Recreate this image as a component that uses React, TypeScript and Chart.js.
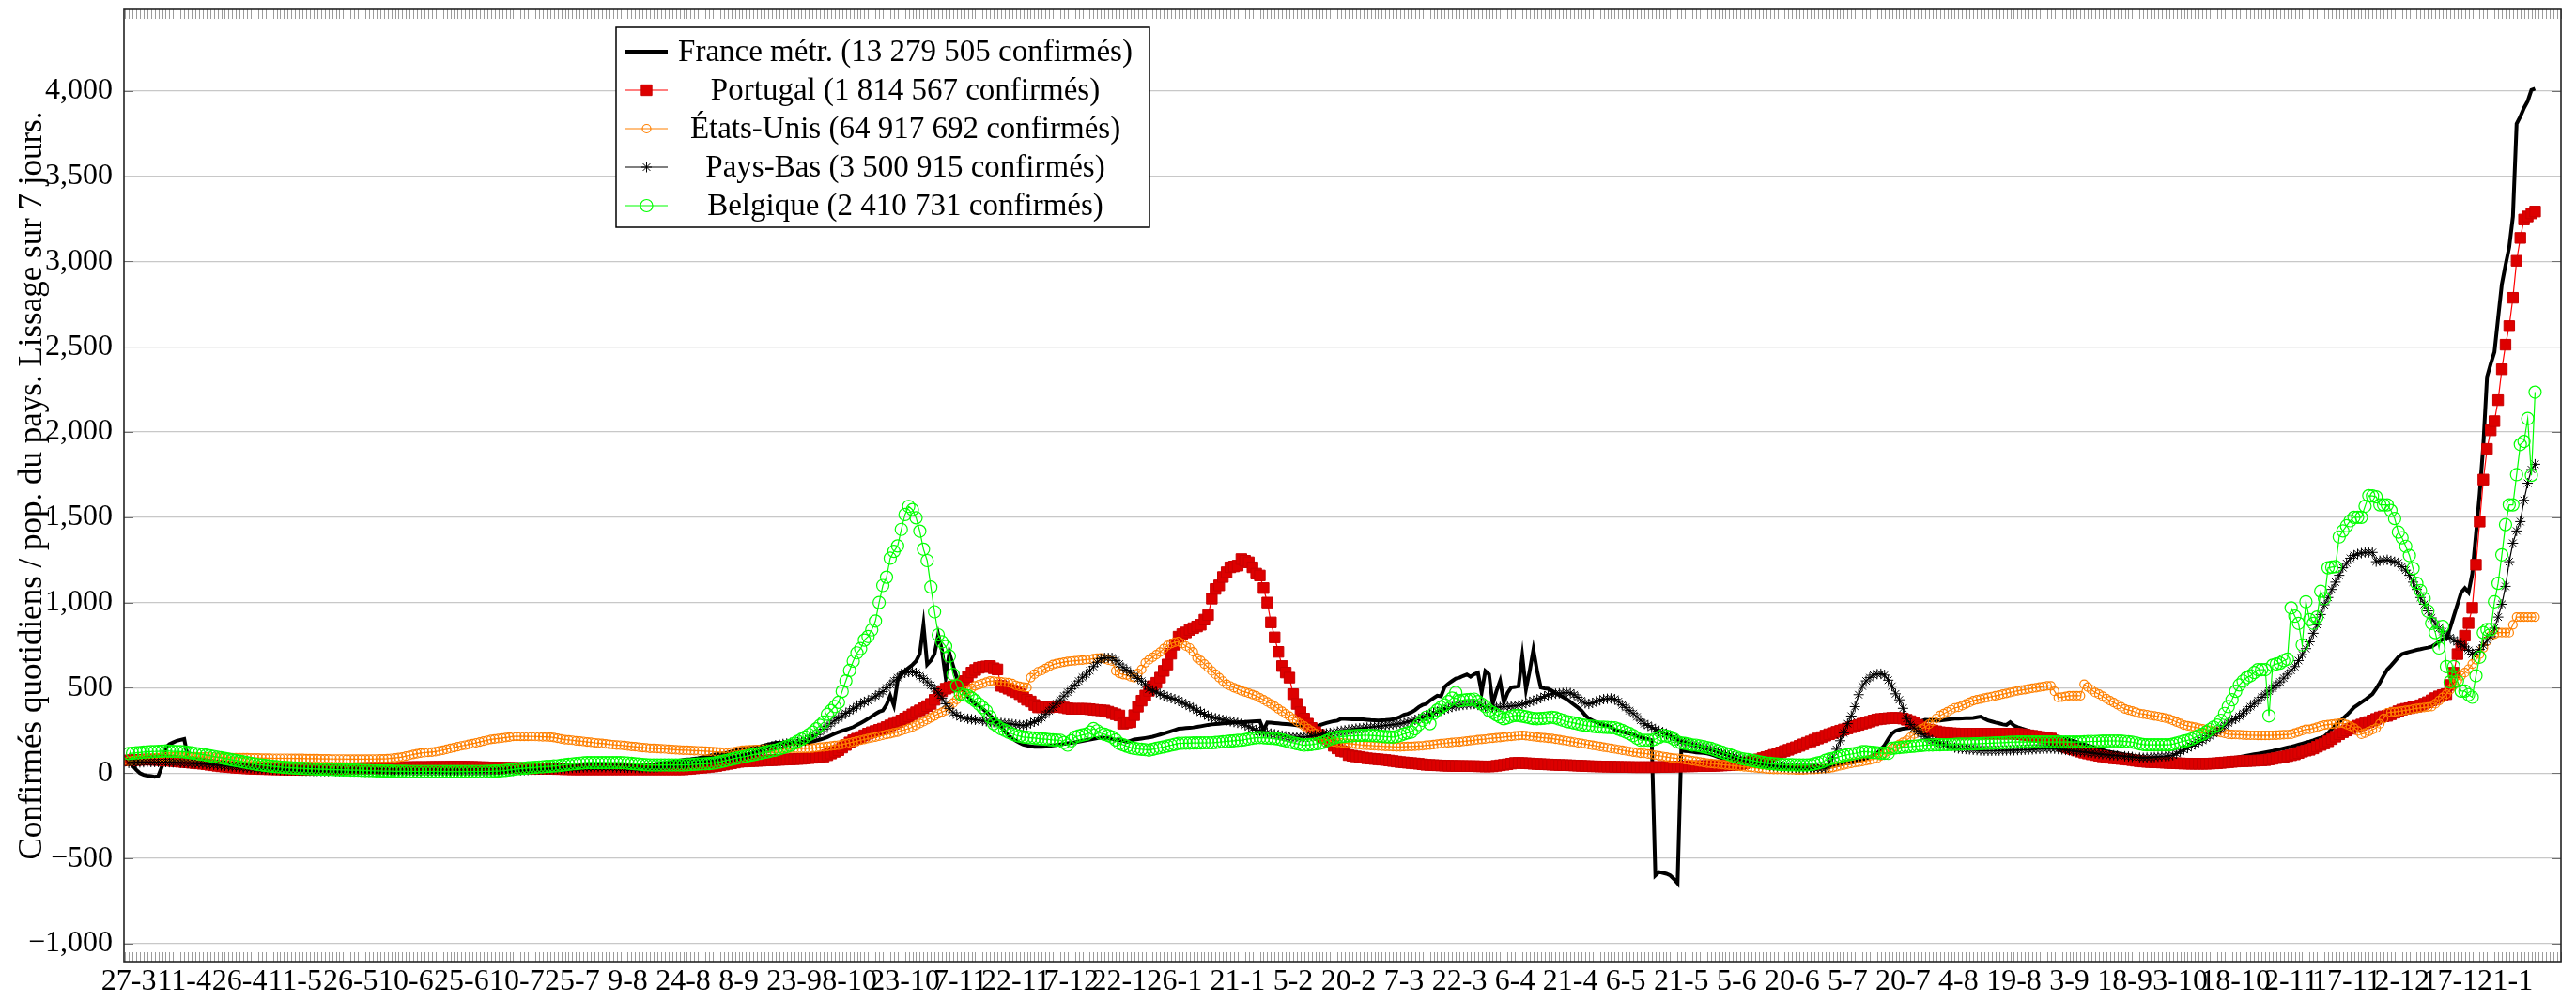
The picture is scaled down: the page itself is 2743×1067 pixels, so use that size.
import React, { useEffect, useRef } from "react";
import { Chart, registerables } from "chart.js";

Chart.register(...registerables);

// ---------- tick labels (one every 15 days, day 0 = 27-3-2020) ----------
const xTickLabels = [
  "27-3", "11-4", "26-4", "11-5", "26-5", "10-6", "25-6", "10-7", "25-7", "9-8",
  "24-8", "8-9", "23-9", "8-10", "23-10", "7-11", "22-11", "7-12", "22-12", "6-1",
  "21-1", "5-2", "20-2", "7-3", "22-3", "6-4", "21-4", "6-5", "21-5", "5-6",
  "20-6", "5-7", "20-7", "4-8", "19-8", "3-9", "18-9", "3-10", "18-10", "2-11",
  "17-11", "2-12", "17-12", "1-1",
];
const xTickStep = 15;
const yTickValues = [-1000, -500, 0, 500, 1000, 1500, 2000, 2500, 3000, 3500, 4000];
const yTickLabels = ["\u22121,000", "\u2212500", "0", "500", "1,000", "1,500", "2,000", "2,500", "3,000", "3,500", "4,000"];

const seriesNames = [
  "France métr. (13 279 505 confirmés)",
  "Portugal (1 814 567 confirmés)",
  "États-Unis (64 917 692 confirmés)",
  "Pays-Bas (3 500 915 confirmés)",
  "Belgique (2 410 731 confirmés)",
];
const yAxisTitle = "Confirmés quotidiens / pop. du pays. Lissage sur 7 jours.";

// ---------- daily values (one per day from 27-3-2020) ----------
const france = [
  80, 45, 20, 0, -10, -15, -18, -22, -15, 40,
  150, 170, 180, 190, 195, 200, 90, 80, 75, 72,
  70, 66, 62, 58, 54, 50, 47, 44, 41, 38,
  35, 33, 31, 29, 27, 25, 24, 23, 22, 21,
  20, 19, 18, 17, 16, 15, 14, 14, 13, 13,
  12, 12, 11, 11, 10, 10, 9, 9, 9, 8,
  8, 8, 8, 8, 8, 7, 7, 7, 7, 7,
  7, 7, 7, 7, 7, 8, 8, 8, 8, 8,
  8, 8, 8, 9, 9, 9, 9, 9, 10, 10,
  10, 10, 10, 10, 10, 10, 11, 11, 11, 11,
  11, 11, 11, 12, 12, 12, 12, 12, 13, 13,
  13, 13, 14, 14, 15, 15, 15, 16, 16, 17,
  17, 18, 19, 19, 20, 21, 22, 23, 24, 24,
  25, 27, 28, 30, 31, 33, 35, 37, 40, 42,
  45, 48, 51, 54, 57, 60, 63, 67, 70, 74,
  77, 80, 82, 85, 87, 92, 97, 101, 106, 110,
  113, 116, 120, 126, 132, 138, 143, 146, 149, 152,
  155, 158, 163, 168, 173, 178, 178, 178, 177, 178,
  178, 178, 178, 178, 180, 185, 191, 197, 203, 212,
  222, 232, 241, 248, 255, 262, 270, 282, 294, 306,
  319, 333, 347, 360, 367, 400, 454, 396, 541, 589,
  600, 618, 635, 657, 700, 869, 637, 660, 700, 811,
  720, 560, 705, 630, 560, 510, 473, 450, 425, 405,
  396, 378, 358, 338, 319, 295, 270, 245, 220, 205,
  190, 178, 168, 162, 158, 155, 154, 154, 156, 160,
  163, 166, 169, 172, 175, 178, 181, 185, 189, 193,
  197, 201, 205, 209, 207, 204, 200, 196, 193, 190,
  183, 190, 197, 200, 203, 206, 209, 214, 220, 226,
  232, 239, 246, 253, 260, 262, 264, 266, 268, 271,
  275, 279, 283, 286, 288, 290, 292, 294, 295, 297,
  298, 299, 300, 302, 303, 304, 305, 251, 297, 296,
  294, 292, 290, 288, 286, 284, 281, 278, 272, 270,
  274, 277, 280, 287, 294, 300, 305, 308, 319, 318,
  317, 316, 316, 315, 315, 313, 311, 310, 309, 310,
  311, 313, 315, 322, 330, 342, 348, 357, 370, 388,
  400, 406, 425, 440, 454, 450, 506, 525, 540, 555,
  560, 570, 579, 565, 580, 589, 473, 599, 580, 406,
  480, 541, 415, 470, 502, 505, 510, 686, 492, 600,
  724, 600, 502, 497, 495, 483, 470, 458, 446, 434,
  418, 401, 385, 367, 340, 320, 309, 298, 290, 283,
  277, 270, 256, 250, 244, 238, 232, 225, 218, 212,
  205, 199, 193, -600, -580, -585, -590, -600, -620, -645,
  135, 130, 128, 125, 122, 120, 118, 116, 110, 103,
  95, 88, 83, 78, 73, 68, 60, 55, 50, 46,
  43, 41, 40, 39, 38, 37, 35, 34, 33, 32,
  31, 30, 29, 30, 31, 32, 33, 34, 35, 36,
  38, 40, 45, 50, 55, 58, 62, 66, 71, 77,
  85, 95, 105, 116, 140, 164, 200, 232, 248, 255,
  261, 263, 265, 280, 295, 305, 313, 312, 311, 310,
  309, 311, 314, 317, 319, 320, 321, 322, 323, 324,
  328, 332, 320, 309, 303, 297, 292, 286, 283, 299,
  280, 270, 262, 255, 248, 241, 236, 232, 228, 225,
  222, 217, 212, 207, 203, 197, 190, 183, 174, 168,
  162, 156, 150, 143, 136, 129, 124, 120, 117, 113,
  109, 106, 102, 98, 94, 90, 88, 86, 84, 82,
  80, 79, 78, 77, 76, 75, 75, 75, 75, 75,
  75, 76, 77, 78, 79, 80, 82, 84, 86, 88,
  90, 94, 98, 102, 106, 110, 114, 118, 122, 126,
  130, 135, 140, 145, 150, 155, 161, 167, 173, 179,
  185, 192, 200, 207, 215, 235, 258, 280, 300, 320,
  340, 362, 385, 400, 415, 430, 447, 463, 495, 530,
  570, 607, 630, 655, 680, 698, 705, 711, 717, 723,
  727, 732, 736, 741, 755, 770, 785, 788, 850, 920,
  990, 1059, 1085, 1060, 1168, 1400, 1638, 1927, 2324, 2400,
  2469, 2670, 2867, 2980, 3084, 3264, 3807, 3850, 3900, 3940,
  4005, 4013,
];

const portugal = [
  75, 76, 77, 78, 79, 80, 79, 78, 77, 76,
  75, 73, 71, 69, 67, 65, 63, 61, 59, 57,
  55, 52, 49, 46, 43, 40, 38, 36, 34, 32,
  30, 29, 28, 27, 26, 25, 24, 24, 23, 23,
  22, 22, 21, 21, 20, 20, 20, 21, 21, 22,
  22, 23, 23, 24, 24, 25, 26, 26, 27, 27,
  28, 28, 29, 29, 30, 30, 31, 31, 32, 32,
  33, 33, 34, 34, 35, 35, 35, 36, 36, 36,
  36, 36, 37, 37, 37, 37, 37, 38, 38, 38,
  38, 38, 37, 37, 36, 35, 35, 34, 34, 33,
  33, 32, 32, 31, 31, 30, 29, 29, 28, 28,
  27, 27, 26, 26, 25, 25, 24, 24, 23, 23,
  22, 22, 22, 22, 22, 22, 22, 22, 22, 22,
  22, 22, 22, 22, 22, 22, 22, 22, 22, 22,
  22, 22, 22, 22, 22, 22, 22, 22, 22, 22,
  22, 24, 26, 28, 30, 32, 34, 37, 39, 42,
  46, 50, 54, 58, 62, 66, 68, 69, 70, 71,
  72, 73, 74, 75, 76, 77, 78, 79, 80, 81,
  82, 83, 84, 86, 88, 90, 92, 94, 97, 105,
  115, 125, 135, 150, 165, 180, 193, 202, 212, 222,
  232, 240, 247, 254, 261, 270, 280, 290, 300, 309,
  320, 332, 345, 357, 368, 380, 393, 406, 430, 463,
  480, 495, 502, 508, 515, 521, 540, 565, 590, 605,
  618, 622, 626, 628, 615, 608, 512, 505, 495, 485,
  475, 463, 445, 430, 420, 400, 386, 386, 386, 386,
  388, 390, 390, 385, 380, 377, 377, 377, 377, 377,
  375, 372, 370, 368, 367, 360, 352, 345, 338, 290,
  296, 299, 340, 390, 425, 455, 483, 510, 530, 560,
  600, 637, 700, 753, 800, 815, 825, 840, 850, 860,
  870, 900, 927, 1023, 1080, 1101, 1150, 1178, 1207, 1212,
  1217, 1255, 1245, 1236, 1207, 1170, 1159, 1085, 1000, 884,
  796, 711, 628, 590, 560, 463, 406, 357, 320, 290,
  265, 241, 225, 210, 203, 180, 160, 145, 130, 126,
  106, 102, 98, 95, 91, 87, 85, 83, 81, 79,
  77, 74, 71, 68, 65, 63, 61, 59, 57, 55,
  52, 49, 48, 47, 46, 45, 44, 43, 43, 42,
  42, 42, 41, 41, 41, 40, 40, 39, 39, 40,
  43, 46, 49, 52, 56, 60, 60, 59, 58, 57,
  55, 54, 53, 52, 51, 50, 49, 48, 47, 47,
  46, 45, 44, 43, 42, 41, 40, 40, 39, 39,
  38, 38, 37, 37, 36, 36, 36, 35, 35, 35,
  35, 35, 35, 35, 36, 36, 37, 37, 38, 39,
  39, 40, 40, 40, 41, 41, 41, 42, 42, 43,
  44, 45, 46, 47, 48, 50, 53, 58, 63, 69,
  75, 81, 88, 94, 100, 107, 115, 122, 130, 137,
  145, 152, 160, 169, 178, 186, 195, 203, 211, 220,
  228, 235, 242, 249, 256, 262, 269, 276, 283, 290,
  296, 302, 309, 315, 318, 320, 322, 324, 324, 323,
  320, 313, 305, 295, 283, 271, 260, 255, 250, 245,
  240, 238, 236, 234, 233, 232, 232, 232, 232, 232,
  232, 232, 232, 232, 232, 232, 232, 232, 232, 232,
  232, 230, 228, 225, 222, 219, 216, 212, 208, 205,
  203, 190, 175, 163, 154, 147, 140, 133, 126, 120,
  115, 110, 106, 102, 98, 94, 90, 87, 85, 83,
  81, 79, 76, 73, 70, 68, 66, 65, 64, 63,
  62, 61, 60, 59, 58, 57, 56, 56, 55, 55,
  55, 55, 55, 56, 57, 58, 60, 62, 64, 66,
  68, 69, 70, 71, 72, 73, 74, 75, 76, 80,
  84, 88, 92, 96, 100, 105, 110, 118, 126, 132,
  137, 145, 155, 165, 174, 187, 200, 214, 228, 240,
  250, 260, 271, 278, 285, 292, 300, 309, 318, 327,
  333, 336, 345, 354, 363, 372, 377, 381, 386, 390,
  398, 407, 416, 427, 440, 450, 458, 463, 517, 589,
  698, 752, 806, 880, 969, 1222, 1475, 1721, 1901, 2010,
  2064, 2187, 2368, 2512, 2621, 2787, 3004, 3138, 3246, 3264,
  3282, 3293,
];

const usa = [
  70, 73, 76, 79, 82, 85, 87, 89, 91, 93,
  95, 95, 96, 96, 97, 97, 97, 96, 96, 95,
  95, 95, 94, 94, 93, 93, 92, 92, 91, 91,
  90, 90, 90, 89, 89, 89, 88, 88, 88, 87,
  87, 87, 87, 87, 86, 86, 86, 86, 85, 85,
  85, 85, 84, 84, 84, 83, 83, 83, 83, 82,
  82, 82, 82, 82, 82, 82, 83, 83, 84, 84,
  85, 87, 89, 92, 95, 100, 105, 110, 114, 118,
  120, 122, 124, 126, 130, 135, 140, 145, 150, 155,
  160, 164, 169, 173, 178, 183, 188, 193, 198, 201,
  203, 206, 209, 212, 216, 216, 216, 216, 216, 215,
  215, 214, 213, 213, 212, 209, 205, 201, 197, 195,
  193, 190, 188, 186, 183, 181, 178, 176, 174, 172,
  169, 167, 165, 164, 162, 159, 157, 155, 152, 150,
  148, 146, 145, 144, 143, 142, 140, 139, 137, 136,
  135, 134, 133, 132, 131, 130, 129, 128, 126, 125,
  124, 122, 120, 123, 127, 131, 134, 136, 137, 138,
  139, 140, 141, 142, 143, 144, 145, 145, 145, 145,
  145, 145, 145, 145, 145, 147, 149, 152, 154, 157,
  159, 162, 164, 169, 173, 178, 183, 188, 193, 198,
  203, 207, 212, 217, 222, 227, 231, 236, 241, 248,
  255, 262, 270, 280, 291, 302, 313, 325, 336, 348,
  358, 367, 389, 411, 432, 454, 469, 484, 498, 512,
  519, 526, 534, 541, 539, 537, 535, 533, 531, 525,
  515, 509, 505, 502, 560, 580, 595, 602, 614, 626,
  637, 642, 647, 651, 655, 657, 659, 661, 663, 666,
  668, 671, 674, 676, 670, 663, 657, 600, 585, 578,
  575, 565, 560, 585, 608, 647, 664, 680, 695, 710,
  730, 748, 760, 768, 772, 760, 745, 734, 711, 676,
  660, 640, 620, 599, 580, 560, 540, 521, 511, 501,
  492, 483, 476, 469, 461, 454, 442, 430, 418, 406,
  392, 377, 363, 348, 334, 319, 304, 290, 276, 261,
  247, 232, 220, 207, 195, 187, 183, 180, 178, 176,
  174, 172, 169, 167, 164, 163, 162, 160, 159, 158,
  157, 156, 155, 154, 154, 155, 156, 157, 158, 159,
  160, 163, 165, 168, 170, 173, 175, 178, 180, 182,
  183, 186, 188, 191, 193, 196, 198, 200, 203, 205,
  207, 209, 212, 214, 216, 218, 220, 222, 220, 217,
  214, 212, 209, 207, 205, 203, 199, 196, 192, 189,
  185, 182, 178, 174, 171, 167, 163, 160, 156, 152,
  149, 145, 142, 138, 134, 131, 127, 124, 120, 117,
  116, 112, 109, 105, 102, 98, 95, 91, 88, 87,
  84, 80, 77, 73, 70, 66, 63, 59, 57, 55,
  53, 50, 48, 46, 44, 42, 39, 37, 35, 33,
  31, 29, 27, 24, 23, 22, 22, 21, 21, 20,
  20, 19, 19, 19, 20, 21, 22, 23, 25, 27,
  29, 33, 38, 43, 48, 53, 57, 61, 64, 68,
  72, 77, 82, 87, 101, 116, 130, 145, 157, 169,
  181, 193, 211, 229, 247, 260, 270, 287, 304, 321,
  338, 349, 360, 372, 383, 386, 396, 406, 415, 425,
  430, 435, 440, 444, 449, 454, 458, 463, 468, 473,
  478, 483, 487, 490, 494, 498, 501, 505, 508, 512,
  512, 480, 444, 446, 450, 454, 454, 454, 454, 521,
  505, 489, 473, 463, 451, 437, 425, 414, 402, 389,
  377, 370, 364, 357, 350, 346, 343, 339, 336, 332,
  327, 323, 318, 309, 300, 291, 282, 278, 273, 269,
  264, 260, 255, 251, 246, 242, 237, 233, 228, 227,
  226, 225, 224, 223, 222, 222, 221, 221, 221, 221,
  222, 223, 224, 225, 226, 228, 235, 242, 250, 257,
  257, 263, 269, 276, 282, 285, 287, 290, 293, 293,
  285, 276, 264, 247, 228, 235, 245, 255, 264, 290,
  320, 354, 357, 359, 362, 365, 369, 372, 376, 380,
  383, 385, 388, 390, 407, 425, 444, 463, 490, 517,
  544, 571, 590, 610, 640, 665, 698, 735, 775, 806,
  815, 824, 824, 824, 824, 870, 915, 915, 915, 915,
  915, 915,
];

const paysBas = [
  60, 61, 62, 63, 64, 65, 65, 65, 65, 65,
  65, 64, 63, 62, 61, 60, 59, 58, 57, 56,
  55, 53, 51, 49, 47, 45, 43, 41, 39, 37,
  35, 33, 31, 29, 27, 25, 24, 23, 22, 21,
  20, 19, 18, 17, 17, 16, 15, 14, 13, 13,
  12, 12, 12, 11, 11, 11, 11, 10, 10, 10,
  10, 10, 10, 9, 9, 9, 9, 9, 8, 8,
  8, 8, 7, 7, 7, 7, 7, 6, 6, 6,
  6, 6, 6, 6, 6, 6, 7, 7, 7, 7,
  7, 7, 7, 8, 8, 8, 9, 9, 9, 10,
  10, 11, 12, 13, 14, 15, 16, 17, 18, 19,
  20, 21, 22, 23, 24, 25, 26, 27, 28, 29,
  30, 31, 32, 33, 34, 35, 35, 35, 35, 34,
  34, 33, 33, 32, 32, 31, 31, 30, 30, 30,
  30, 31, 32, 34, 36, 38, 40, 42, 44, 46,
  48, 52, 56, 60, 64, 68, 71, 74, 77, 81,
  84, 88, 91, 95, 98, 101, 104, 108, 115, 122,
  129, 136, 143, 150, 157, 164, 168, 171, 174, 177,
  180, 183, 187, 190, 200, 212, 225, 241, 257, 275,
  292, 309, 323, 337, 351, 364, 378, 392, 405, 418,
  425, 438, 452, 465, 478, 500, 520, 541, 560, 580,
  589, 593, 595, 588, 570, 555, 535, 515, 495, 470,
  440, 406, 380, 355, 340, 330, 322, 319, 316, 313,
  310, 307, 304, 301, 299, 297, 295, 292, 290, 288,
  285, 282, 280, 283, 293, 302, 309, 325, 345, 365,
  386, 408, 430, 452, 474, 494, 517, 540, 562, 579,
  600, 625, 650, 670, 676, 676, 676, 660, 640, 620,
  605, 590, 570, 555, 540, 520, 492, 485, 475, 465,
  455, 447, 440, 433, 425, 414, 403, 392, 381, 369,
  357, 346, 334, 326, 322, 317, 312, 309, 304, 300,
  295, 290, 281, 272, 262, 252, 248, 243, 238, 232,
  228, 224, 220, 216, 212, 212, 212, 212, 212, 214,
  218, 222, 226, 230, 233, 236, 240, 244, 248, 251,
  255, 258, 261, 263, 265, 268, 270, 272, 275, 277,
  280, 282, 285, 288, 290, 295, 301, 307, 313, 319,
  325, 338, 345, 352, 360, 367, 374, 381, 388, 394,
  397, 400, 402, 404, 406, 400, 394, 390, 386, 386,
  387, 388, 390, 391, 393, 395, 398, 403, 410, 418,
  425, 432, 440, 450, 460, 463, 466, 468, 470, 473,
  470, 460, 445, 425, 410, 406, 412, 420, 427, 434,
  436, 438, 434, 420, 400, 385, 367, 350, 330, 310,
  290, 280, 268, 257, 247, 240, 230, 219, 207, 193,
  185, 180, 174, 168, 162, 156, 150, 145, 140, 133,
  126, 119, 112, 105, 98, 93, 87, 80, 73, 67,
  62, 57, 52, 48, 45, 42, 40, 38, 36, 34,
  32, 31, 30, 29, 29, 29, 29, 29, 29, 29,
  60, 90, 140, 190, 235, 290, 335, 390, 460, 510,
  541, 560, 575, 581, 583, 575, 545, 510, 465, 430,
  380, 320, 285, 265, 245, 230, 215, 203, 192, 183,
  175, 168, 160, 155, 150, 145, 143, 141, 139, 137,
  135, 133, 132, 131, 131, 132, 132, 133, 133, 134,
  134, 135, 136, 137, 138, 139, 141, 142, 143, 144,
  145, 143, 141, 139, 136, 133, 130, 128, 126, 124,
  122, 119, 116, 113, 111, 108, 106, 105, 103, 101,
  99, 97, 95, 93, 91, 90, 91, 92, 94, 96,
  98, 99, 101, 105, 115, 127, 138, 148, 159, 170,
  181, 192, 205, 218, 232, 246, 262, 278, 294, 310,
  318, 334, 350, 370, 390, 408, 426, 445, 463, 481,
  499, 517, 535, 557, 580, 602, 625, 660, 695, 730,
  770, 820, 870, 930, 987, 1030, 1077, 1120, 1160, 1204,
  1230, 1260, 1276, 1285, 1290, 1294, 1294, 1294, 1240, 1245,
  1248, 1251, 1245, 1239, 1233, 1210, 1190, 1160, 1120, 1077,
  1030, 990, 951, 910, 875, 850, 830, 806, 795, 780,
  770, 755, 740, 720, 698, 710, 725, 750, 780, 800,
  850, 915, 990, 1095, 1240, 1348, 1420, 1475, 1600, 1700,
  1780, 1811,
];

const belgique = [
  115, 117, 119, 121, 123, 125, 126, 127, 128, 129,
  130, 129, 128, 127, 126, 125, 122, 119, 116, 113,
  110, 106, 102, 98, 94, 90, 86, 82, 78, 74,
  70, 66, 62, 58, 54, 50, 48, 45, 42, 40,
  38, 36, 34, 33, 31, 30, 29, 28, 27, 26,
  25, 24, 23, 23, 22, 21, 20, 20, 19, 19,
  18, 17, 17, 16, 15, 15, 14, 13, 13, 12,
  12, 12, 11, 11, 11, 11, 10, 10, 10, 10,
  10, 10, 10, 10, 10, 9, 9, 9, 9, 9,
  9, 9, 9, 9, 10, 10, 10, 11, 11, 12,
  12, 14, 16, 19, 22, 25, 27, 29, 31, 33,
  34, 36, 37, 39, 40, 42, 43, 46, 49, 52,
  54, 56, 58, 60, 62, 62, 62, 62, 62, 62,
  62, 62, 62, 62, 61, 59, 57, 55, 53, 51,
  49, 48, 48, 48, 48, 48, 48, 48, 48, 48,
  48, 49, 50, 52, 53, 54, 55, 56, 58, 62,
  66, 71, 76, 81, 86, 91, 95, 99, 104, 108,
  113, 117, 122, 126, 131, 135, 142, 149, 156, 163,
  175, 187, 199, 212, 226, 241, 260, 280, 300, 345,
  367, 390, 415, 480, 541, 602, 657, 705, 730, 780,
  801, 840, 892, 1000, 1100, 1149, 1260, 1300, 1332, 1429,
  1516, 1564, 1545, 1497, 1419, 1313, 1246, 1091, 946, 811,
  770, 743, 686, 579, 512, 463, 458, 454, 440, 425,
  405, 385, 365, 330, 290, 275, 260, 251, 240, 230,
  222, 217, 212, 210, 208, 206, 203, 201, 199, 197,
  195, 194, 193, 180, 164, 190, 212, 218, 224, 228,
  240, 261, 248, 233, 228, 220, 212, 195, 174, 166,
  158, 150, 145, 142, 140, 138, 135, 140, 145, 150,
  154, 159, 164, 169, 174, 175, 176, 176, 177, 177,
  177, 178, 178, 178, 180, 182, 184, 186, 188, 190,
  192, 193, 197, 201, 205, 208, 209, 208, 206, 204,
  203, 200, 195, 190, 183, 178, 173, 168, 164, 166,
  168, 171, 174, 180, 190, 200, 206, 212, 214, 216,
  218, 219, 220, 221, 222, 222, 221, 220, 218, 216,
  214, 213, 212, 215, 222, 230, 236, 241, 260, 285,
  310, 328, 290, 350, 370, 386, 400, 420, 440, 473,
  425, 428, 431, 432, 434, 420, 405, 390, 367, 355,
  342, 330, 319, 325, 333, 338, 338, 334, 330, 325,
  320, 319, 320, 322, 325, 328, 324, 317, 310, 303,
  299, 294, 289, 284, 280, 277, 275, 272, 270, 269,
  268, 267, 266, 258, 250, 241, 232, 220, 205, 193,
  193, 193, 193, 200, 210, 222, 217, 212, 200, 183,
  178, 174, 170, 165, 164, 160, 155, 150, 145, 138,
  130, 123, 116, 109, 101, 94, 87, 83, 79, 75,
  71, 67, 63, 59, 57, 55, 53, 51, 50, 49,
  49, 48, 48, 48, 48, 50, 55, 60, 65, 75,
  82, 87, 92, 98, 103, 108, 112, 116, 120, 126,
  126, 124, 122, 120, 118, 117, 116, 145, 148, 150,
  152, 154, 156, 158, 160, 162, 164, 165, 165, 166,
  166, 167, 167, 168, 169, 170, 170, 171, 171, 172,
  172, 173, 174, 175, 176, 177, 178, 179, 180, 181,
  182, 183, 183, 183, 183, 183, 183, 183, 183, 183,
  183, 183, 183, 183, 183, 183, 183, 183, 183, 184,
  185, 186, 186, 187, 188, 188, 189, 189, 189, 188,
  186, 184, 182, 178, 172, 168, 166, 166, 166, 166,
  166, 166, 166, 170, 176, 182, 188, 192, 200, 210,
  220, 228, 240, 255, 270, 282, 310, 350, 390, 430,
  480, 517, 540, 560, 571, 590, 607, 607, 607, 336,
  633, 640, 645, 660, 669, 969, 920, 878, 752, 1005,
  900, 878, 915, 1066, 1023, 1204, 1208, 1211, 1385, 1420,
  1450, 1480, 1500, 1500, 1500, 1565, 1627, 1625, 1620, 1573,
  1573, 1573, 1540, 1493, 1413, 1380, 1330, 1276, 1200, 1113,
  1070, 1023, 950, 878, 824, 734, 860, 625, 535, 625,
  540, 481, 481, 460, 445, 571, 680, 824, 842, 842,
  1005, 1113, 1280, 1457, 1573, 1573, 1750, 1927, 1945, 2079,
  1746, 2234,
];

const FONT = "'Liberation Serif', 'Times New Roman', serif";

function drawMarker(ctx: CanvasRenderingContext2D, ds: any, x: number, y: number) {
  const r = ds.pointRadius;
  ctx.save();
  ctx.lineWidth = ds.pointBorderWidth ?? 1;
  ctx.strokeStyle = ds.pointBorderColor;
  ctx.fillStyle = ds.pointBackgroundColor;
  ctx.beginPath();
  if (ds.pointStyle === "rect") {
    const s = r * Math.SQRT1_2;
    ctx.rect(x - s, y - s, 2 * s, 2 * s);
    ctx.fill();
    ctx.stroke();
  } else if (ds.pointStyle === "circle") {
    ctx.arc(x, y, r, 0, Math.PI * 2);
    ctx.fill();
    ctx.stroke();
  } else if (ds.pointStyle === "star") {
    for (let k = 0; k < 4; k++) {
      const a = (k * Math.PI) / 4;
      ctx.moveTo(x + Math.cos(a) * r, y + Math.sin(a) * r);
      ctx.lineTo(x - Math.cos(a) * r, y - Math.sin(a) * r);
    }
    ctx.stroke();
  }
  ctx.restore();
}

const decorPlugin = {
  id: "decor",
  beforeDatasetsDraw(chart: any) {
    const { ctx, chartArea: a, scales } = chart;
    const xs = scales.x;
    const ys = scales.y;
    ctx.save();
    ctx.strokeStyle = "#9c9c9c";
    ctx.lineWidth = 1;
    ctx.beginPath();
    for (let d = Math.ceil(xs.min); d <= Math.floor(xs.max); d++) {
      const px = Math.round(xs.getPixelForValue(d)) + 0.5;
      ctx.moveTo(px, a.bottom);
      ctx.lineTo(px, a.bottom - 10);
      ctx.moveTo(px, a.top);
      ctx.lineTo(px, a.top + 10);
    }
    ctx.stroke();
    ctx.strokeStyle = "#707070";
    ctx.beginPath();
    yTickValues.forEach((v) => {
      const py = Math.round(ys.getPixelForValue(v)) + 0.5;
      ctx.moveTo(a.left, py);
      ctx.lineTo(a.left + 10, py);
      ctx.moveTo(a.right, py);
      ctx.lineTo(a.right - 10, py);
    });
    ctx.stroke();
    ctx.restore();
  },
  afterDatasetsDraw(chart: any) {
    const { ctx, chartArea: a } = chart;
    ctx.save();
    ctx.strokeStyle = "#222";
    ctx.lineWidth = 1.6;
    ctx.strokeRect(a.left, a.top, a.right - a.left, a.bottom - a.top);
    ctx.restore();
  },
  afterDraw(chart: any) {
    const ctx: CanvasRenderingContext2D = chart.ctx;
    const L = 656, T = 29, R = 1224, B = 242;
    ctx.save();
    ctx.fillStyle = "#fff";
    ctx.fillRect(L, T, R - L, B - T);
    ctx.strokeStyle = "#000";
    ctx.lineWidth = 1.5;
    ctx.strokeRect(L, T, R - L, B - T);
    chart.data.datasets.forEach((ds: any, i: number) => {
      const y = T + 26 + i * 41;
      ctx.strokeStyle = ds.borderColor;
      ctx.lineWidth = ds.borderWidth;
      ctx.beginPath();
      ctx.moveTo(666, y);
      ctx.lineTo(711, y);
      ctx.stroke();
      if (ds.pointRadius > 0) drawMarker(ctx, ds, 688.5, y);
      ctx.fillStyle = "#000";
      ctx.font = `33px ${FONT}`;
      ctx.textAlign = "center";
      ctx.textBaseline = "middle";
      ctx.fillText(ds.label, 964, y + 1);
    });
    ctx.restore();
  },
};

export default function App() {
  const canvasRef = useRef<HTMLCanvasElement | null>(null);

  useEffect(() => {
    const canvas = canvasRef.current;
    if (!canvas) return;
    const toPoints = (arr: number[]) => arr.map((v, i) => ({ x: i, y: v }));
    const chart = new Chart(canvas, {
      type: "line",
      data: {
        datasets: [
          {
            label: seriesNames[0],
            data: toPoints(france),
            borderColor: "#000000",
            backgroundColor: "#000000",
            borderWidth: 4,
            pointRadius: 0,
            tension: 0,
            order: 5,
          },
          {
            label: seriesNames[1],
            data: toPoints(portugal),
            borderColor: "#ff0000",
            backgroundColor: "#dd0000",
            borderWidth: 1.2,
            pointStyle: "rect",
            pointRadius: 8,
            pointBackgroundColor: "#dd0000",
            pointBorderColor: "#c80000",
            pointBorderWidth: 1,
            tension: 0,
            order: 4,
          },
          {
            label: seriesNames[2],
            data: toPoints(usa),
            borderColor: "#ff8000",
            backgroundColor: "rgba(255,255,255,0)",
            borderWidth: 1.2,
            pointStyle: "circle",
            pointRadius: 4.5,
            pointBackgroundColor: "rgba(255,255,255,0)",
            pointBorderColor: "#ff8000",
            pointBorderWidth: 1.2,
            tension: 0,
            order: 3,
          },
          {
            label: seriesNames[3],
            data: toPoints(paysBas),
            borderColor: "#000000",
            backgroundColor: "#000000",
            borderWidth: 1.2,
            pointStyle: "star",
            pointRadius: 5.5,
            pointBackgroundColor: "#000000",
            pointBorderColor: "#000000",
            pointBorderWidth: 1,
            tension: 0,
            order: 2,
          },
          {
            label: seriesNames[4],
            data: toPoints(belgique),
            borderColor: "#00ff00",
            backgroundColor: "rgba(255,255,255,0)",
            borderWidth: 1.2,
            pointStyle: "circle",
            pointRadius: 6.5,
            pointBackgroundColor: "rgba(255,255,255,0)",
            pointBorderColor: "#00ff00",
            pointBorderWidth: 1.2,
            tension: 0,
            order: 1,
          },
        ],
      },
      options: {
        animation: false,
        responsive: true,
        maintainAspectRatio: false,
        events: [],
        layout: { padding: { top: 10, right: 16, left: 0, bottom: 0 } },
        plugins: { legend: { display: false }, tooltip: { enabled: false }, title: { display: false } },
        scales: {
          x: {
            type: "linear",
            min: -1.3,
            max: 658,
            grid: { display: false, drawTicks: false },
            border: { display: false },
            afterBuildTicks: (s: any) => {
              s.ticks = xTickLabels.map((_, i) => ({ value: i * xTickStep }));
            },
            afterFit: (s: any) => {
              s.height = 43;
              s.paddingLeft = 0;
              s.paddingRight = 0;
              s.paddingTop = 0;
              s.paddingBottom = 0;
            },
            ticks: {
              autoSkip: false,
              maxRotation: 0,
              minRotation: 0,
              padding: 2,
              color: "#000",
              font: { size: 32, family: FONT },
              callback: (v: any) => xTickLabels[Math.round(Number(v) / xTickStep)] ?? "",
            },
          },
          y: {
            type: "linear",
            min: -1105,
            max: 4478,
            afterBuildTicks: (s: any) => {
              s.ticks = yTickValues.map((v) => ({ value: v }));
            },
            afterFit: (s: any) => {
              s.width = 132;
              s.paddingTop = 0;
              s.paddingBottom = 0;
              s.paddingLeft = 0;
              s.paddingRight = 0;
            },
            grid: { color: "#c8c8c8", lineWidth: 1.3, drawTicks: false },
            border: { display: false },
            ticks: {
              padding: 12,
              color: "#000",
              font: { size: 32, family: FONT },
              callback: (v: any) => yTickLabels[yTickValues.indexOf(Number(v))] ?? "",
            },
            title: {
              display: true,
              text: yAxisTitle,
              color: "#000",
              font: { size: 35, family: FONT },
              padding: { top: 14, bottom: 0 },
            },
          },
        },
      },
      plugins: [decorPlugin],
    } as any);
    return () => chart.destroy();
  }, []);

  return (
    <div
      style={{
        position: "fixed",
        left: 0,
        top: 0,
        width: "2743px",
        height: "1067px",
        background: "#fff",
      }}
    >
      <canvas ref={canvasRef} />
    </div>
  );
}
